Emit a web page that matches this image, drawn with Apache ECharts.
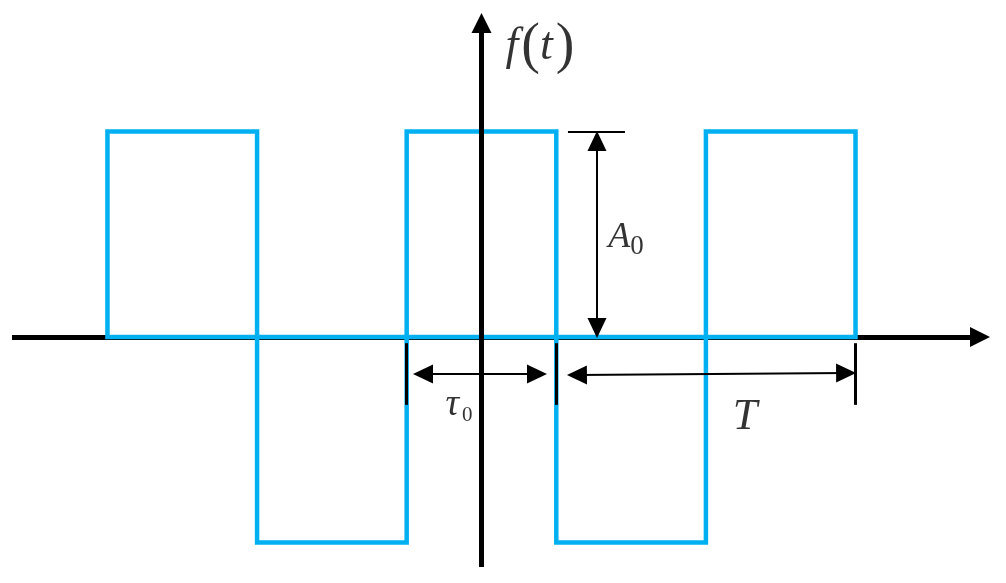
<!DOCTYPE html>
<html>
<head>
<meta charset="utf-8">
<script src="https://cdn.jsdelivr.net/npm/echarts@6/dist/echarts.min.js"></script>
<style>
  html, body { margin: 0; padding: 0; background: #fff; }
  #chart { width: 1006px; height: 583px; }
</style>
</head>
<body>
<div id="chart"></div>
<script>
// square wave f(t): pulse width tau0, period T, amplitude A0 (units of tau0 / A0)
var waveX = [-2.5, -2.5, -1.5, -1.5, -0.5, -0.5, 0.5, 0.5, 1.5, 1.5, 2.5, 2.5, -2.5];
var waveY = [0, 1, 1, -1, -1, 1, 1, -1, -1, 1, 1, 0, 0];

// dimension marks
var tauEdges = [-0.5, 0.5];     // tau0 edges
var periodEnd = 2.5;            // right edge of T
var labels = ['f(t)', 'A0', 'τ0', 'T'];

var serif = '"Liberation Serif", "DejaVu Serif", serif';

var chart = echarts.init(document.getElementById('chart'));

var wave = waveX.map(function (x, i) { return [x, waveY[i]]; });

// helper for mark lines
function seg(x1, y1, x2, y2, arrows, width) {
  var sym = arrows ? 'triangle' : 'none';
  return [
    { coord: [x1, y1], symbol: sym, symbolSize: [19, 20], lineStyle: { color: '#000', width: width, type: 'solid', cap: 'butt' } },
    { coord: [x2, y2], symbol: sym, symbolSize: [19, 20] }
  ];
}

var marks = [
  seg(0.578, 1, 0.959, 1, false, 2),            // A0 top bar
  seg(0.772, 0.954, 0.772, 0.044, true, 2),     // A0 arrow
  seg(tauEdges[0] + 0.109, -0.18, tauEdges[1] - 0.129, -0.18, true, 2),  // tau0 arrow
  seg(tauEdges[1] + 0.138, -0.185, periodEnd - 0.063, -0.175, true, 2),   // T arrow
  seg(tauEdges[0], -0.03, tauEdges[0], -0.33, false, 3),
  seg(tauEdges[1], -0.03, tauEdges[1], -0.33, false, 3),
  seg(periodEnd, -0.03, periodEnd, -0.33, false, 3)
];

var rich = {
  i: { fontFamily: serif, fontStyle: 'italic', fontSize: 46, color: '#000' },
  p: { fontFamily: serif, fontSize: 56, color: '#000', padding: [0, 0, 0, 3] },
  a: { fontFamily: serif, fontStyle: 'italic', fontSize: 36, color: '#000' },
  t: { fontFamily: serif, fontStyle: 'italic', fontSize: 38, color: '#000' },
  tt: { fontFamily: serif, fontStyle: 'italic', fontSize: 44, color: '#000' },
  s: { fontFamily: serif, fontSize: 27, color: '#000', padding: [18, 0, 0, 0] },
  s2: { fontFamily: serif, fontSize: 21, color: '#000', padding: [20, 0, 0, 3] }
};

var textItems = [
  { value: [0.391, 1.411], label: { formatter: '{i|f}{p|(}{i|t}{p|)}' } },
  { value: [0.966, 0.482], label: { formatter: '{a|A}{s|0}' } },
  { value: [-0.150, -0.331], label: { formatter: '{t|τ}{s2|0}' } },
  { value: [1.761, -0.389], label: { formatter: '{tt|T}' } }
];

chart.setOption({
  backgroundColor: '#fff',
  animation: false,
  grid: { left: 12, right: 26, top: 23, bottom: 16 },
  xAxis: {
    type: 'value',
    min: -3.138,
    max: 3.332,
    z: 0,
    axisLine: {
      onZero: true,
      symbol: ['none', 'triangle'],
      symbolSize: [20, 20],
      lineStyle: { color: '#000', width: 5, cap: 'butt' }
    },
    axisTick: { show: false },
    axisLabel: { show: false },
    splitLine: { show: false }
  },
  yAxis: {
    type: 'value',
    min: -1.119,
    max: 1.528,
    z: 5,
    axisLine: {
      onZero: true,
      symbol: ['none', 'triangle'],
      symbolSize: [20, 20],
      lineStyle: { color: '#000', width: 5, cap: 'butt' }
    },
    axisTick: { show: false },
    axisLabel: { show: false },
    splitLine: { show: false }
  },
  series: [
    {
      name: 'f(t)',
      type: 'line',
      data: wave,
      symbol: 'none',
      z: 2,
      lineStyle: { color: '#00B0F0', width: 4.5, join: 'miter', cap: 'square' }
    },
    {
      name: 'dims',
      type: 'line',
      data: [],
      z: 6,
      markLine: {
        silent: true,
        z: 6,
        label: { show: false },
        emphasis: { disabled: true },
        data: marks
      }
    },
    {
      name: 'labels',
      type: 'scatter',
      symbolSize: 0,
      z: 7,
      data: textItems,
      label: {
        show: true,
        position: 'inside',
        align: 'center',
        verticalAlign: 'middle',
        color: '#000',
        rich: rich
      }
    }
  ]
});
</script>
</body>
</html>
